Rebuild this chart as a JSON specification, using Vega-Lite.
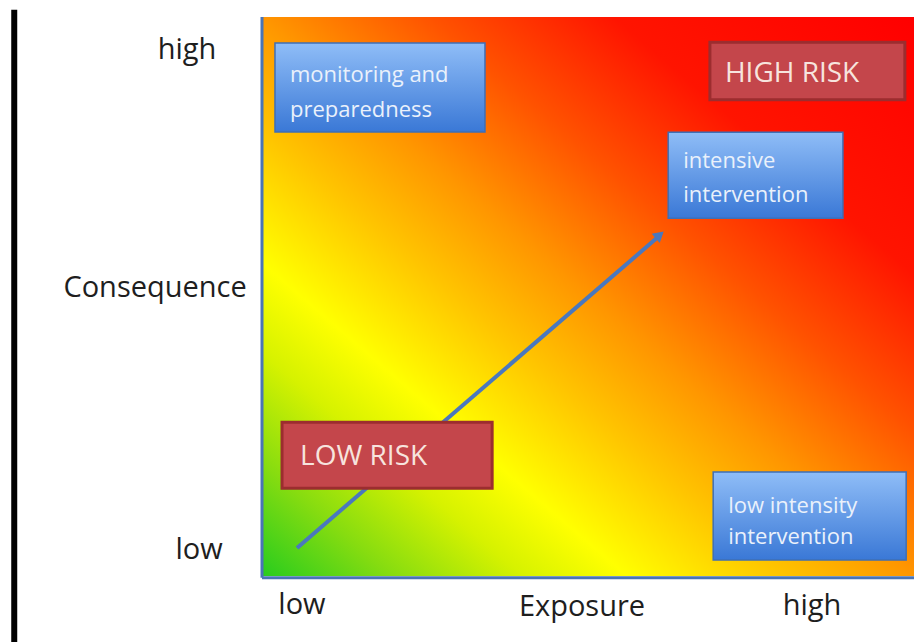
{
  "$schema": "https://vega.github.io/schema/vega-lite/v6.json",
  "width": 652,
  "height": 559,
  "autosize": {"type": "none"},
  "padding": {"left": 262, "top": 17, "right": 0, "bottom": 66},
  "background": "white",
  "config": {"view": {"stroke": null}, "text": {"font": "Open Sans"}},
  "datasets": {
    "bg": [{"x": 0, "x2": 100, "y": 0, "y2": 100}],
    "blueBoxes": [
      {"name": "monitoring", "x": 1.99, "x2": 34.2, "y": 79.43, "y2": 95.35},
      {"name": "intensive", "x": 62.3, "x2": 89.1, "y": 64.0, "y2": 79.4},
      {"name": "low intensity", "x": 69.2, "x2": 98.8, "y": 2.86, "y2": 18.6}
    ],
    "redBoxes": [
      {"name": "HIGH RISK", "x": 68.7, "x2": 98.6, "y": 85.2, "y2": 95.5},
      {"name": "LOW RISK", "x": 3.07, "x2": 35.3, "y": 15.7, "y2": 27.5}
    ],
    "boxText": [
      {"label": "monitoring and", "x": 4.29, "y": 89.6},
      {"label": "preparedness", "x": 4.29, "y": 83.4},
      {"label": "intensive", "x": 64.6, "y": 74.2},
      {"label": "intervention", "x": 64.6, "y": 68.2},
      {"label": "low intensity", "x": 71.5, "y": 12.5},
      {"label": "intervention", "x": 71.5, "y": 6.98}
    ],
    "riskText": [
      {"label": "HIGH RISK", "x": 71.0, "y": 89.8},
      {"label": "LOW RISK", "x": 5.83, "y": 21.3}
    ],
    "axisText": [
      {"label": "high", "x": -11.5, "y": 94.1},
      {"label": "Consequence", "x": -16.4, "y": 51.5},
      {"label": "low", "x": -9.66, "y": 4.65},
      {"label": "low", "x": 6.13, "y": -5.19},
      {"label": "Exposure", "x": 49.08, "y": -5.55},
      {"label": "high", "x": 84.36, "y": -5.37}
    ],
    "arrow": [{"x": 5.37, "y": 5.01, "x2": 60.6, "y2": 60.5}],
    "arrowHead": [{"x": 61.0, "y": 61.0}],
    "borders": [
      {"x": 0, "y": -0.3, "x2": 0, "y2": 100},
      {"x": 0, "y": -0.3, "x2": 100, "y2": -0.3}
    ],
    "blackLine": [{"x": -38.0, "y": -11.8, "y2": 101.3}]
  },
  "layer": [
    {
      "data": {"name": "bg"},
      "mark": {
        "type": "rect",
        "clip": false,
        "color": {
          "gradient": "linear",
          "x1": 0, "y1": 1, "x2": 1, "y2": 0,
          "stops": [
            {"offset": 0, "color": "#28cc1e"},
            {"offset": 0.1, "color": "#86dc10"},
            {"offset": 0.2, "color": "#d6f200"},
            {"offset": 0.28, "color": "#ffff00"},
            {"offset": 0.4, "color": "#ffc400"},
            {"offset": 0.5, "color": "#ff9600"},
            {"offset": 0.63, "color": "#ff5200"},
            {"offset": 0.77, "color": "#ff1400"},
            {"offset": 1, "color": "#ff0000"}
          ]
        }
      },
      "encoding": {
        "x": {"field": "x", "type": "quantitative", "scale": {"domain": [0, 100]}, "axis": null},
        "x2": {"field": "x2"},
        "y": {"field": "y", "type": "quantitative", "scale": {"domain": [0, 100]}, "axis": null},
        "y2": {"field": "y2"}
      }
    },
    {
      "data": {"name": "borders"},
      "mark": {"type": "rule", "clip": false, "color": "#4a74b5", "strokeWidth": 3},
      "encoding": {
        "x": {"field": "x", "type": "quantitative"},
        "x2": {"field": "x2"},
        "y": {"field": "y", "type": "quantitative"},
        "y2": {"field": "y2"}
      }
    },
    {
      "data": {"name": "blackLine"},
      "mark": {"type": "rule", "clip": false, "color": "#000000", "strokeWidth": 6},
      "encoding": {
        "x": {"field": "x", "type": "quantitative"},
        "y": {"field": "y", "type": "quantitative"},
        "y2": {"field": "y2"}
      }
    },
    {
      "data": {"name": "arrow"},
      "mark": {"type": "rule", "clip": false, "color": "#4a78be", "strokeWidth": 4},
      "encoding": {
        "x": {"field": "x", "type": "quantitative"},
        "x2": {"field": "x2"},
        "y": {"field": "y", "type": "quantitative"},
        "y2": {"field": "y2"}
      }
    },
    {
      "data": {"name": "arrowHead"},
      "mark": {"type": "point", "shape": "triangle-up", "filled": true, "color": "#4a78be", "opacity": 1, "size": 150, "angle": 49.3, "clip": false},
      "encoding": {
        "x": {"field": "x", "type": "quantitative"},
        "y": {"field": "y", "type": "quantitative"}
      }
    },
    {
      "data": {"name": "redBoxes"},
      "mark": {"type": "rect", "clip": false, "color": "#c4464b", "stroke": "#9c2d2f", "strokeWidth": 3},
      "encoding": {
        "x": {"field": "x", "type": "quantitative"},
        "x2": {"field": "x2"},
        "y": {"field": "y", "type": "quantitative"},
        "y2": {"field": "y2"}
      }
    },
    {
      "data": {"name": "blueBoxes"},
      "mark": {
        "type": "rect",
        "clip": false,
        "stroke": "#3f6fb5",
        "strokeWidth": 1.5,
        "color": {
          "gradient": "linear",
          "x1": 0, "y1": 0, "x2": 0, "y2": 1,
          "stops": [
            {"offset": 0, "color": "#8fbdf7"},
            {"offset": 1, "color": "#3a78d6"}
          ]
        }
      },
      "encoding": {
        "x": {"field": "x", "type": "quantitative"},
        "x2": {"field": "x2"},
        "y": {"field": "y", "type": "quantitative"},
        "y2": {"field": "y2"}
      }
    },
    {
      "data": {"name": "boxText"},
      "mark": {"type": "text", "clip": false, "align": "left", "baseline": "middle", "fontSize": 22, "color": "#eaf1fb"},
      "encoding": {
        "x": {"field": "x", "type": "quantitative"},
        "y": {"field": "y", "type": "quantitative"},
        "text": {"field": "label"}
      }
    },
    {
      "data": {"name": "riskText"},
      "mark": {"type": "text", "clip": false, "align": "left", "baseline": "middle", "fontSize": 28, "color": "#f7e4de"},
      "encoding": {
        "x": {"field": "x", "type": "quantitative"},
        "y": {"field": "y", "type": "quantitative"},
        "text": {"field": "label"}
      }
    },
    {
      "data": {"name": "axisText"},
      "mark": {"type": "text", "clip": false, "align": "center", "baseline": "middle", "fontSize": 29, "color": "#1e1e1e"},
      "encoding": {
        "x": {"field": "x", "type": "quantitative"},
        "y": {"field": "y", "type": "quantitative"},
        "text": {"field": "label"}
      }
    }
  ]
}
